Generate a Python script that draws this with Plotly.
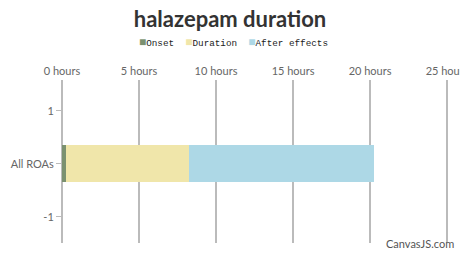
import plotly.graph_objects as go

categories = ["All ROAs"]
onset = [0.25]
duration = [8.0]
after_effects = [12.0]
series_names = ["Onset", "Duration", "After effects"]
colors = ["#7b9170", "#f0e6aa", "#add8e6"]
x_tickvals = [0, 5, 10, 15, 20, 25]
x_ticktext = [f"{v} hours" for v in x_tickvals]
y_tickvals = [1, 0, -1]
y_ticktext = ["1", "All ROAs", "-1"]

y_pos = [0]

fig = go.Figure()
for name, vals, c in zip(series_names, [onset, duration, after_effects], colors):
    fig.add_trace(go.Bar(
        x=vals, y=y_pos, orientation="h", name=name,
        marker=dict(color=c, line=dict(width=0)), width=0.7, showlegend=False,
    ))

legend_text = "&nbsp;&nbsp;".join(
    f"<span style='color:{c};font-size:12px'>■</span>{n}" for n, c in zip(series_names, colors)
)

plot_l, plot_t, plot_b = 62, 80, 11
plot_h = 254 - plot_t - plot_b

fig.update_layout(
    barmode="stack",
    width=460, height=254,
    margin=dict(l=plot_l, r=0, t=plot_t, b=plot_b),
    paper_bgcolor="white", plot_bgcolor="white",
    title=dict(text="<b>halazepam duration</b>", x=0.5, xanchor="center",
               y=1 - 19 / 254, yanchor="middle",
               font=dict(family="Lato", size=22, color="#333333")),
    showlegend=False,
    xaxis=dict(side="top", range=[0, 25.84], tickvals=x_tickvals, ticktext=x_ticktext,
               showgrid=True, gridcolor="#bbbbbb", gridwidth=2,
               zeroline=True, zerolinecolor="#bbbbbb", zerolinewidth=2,
               showline=False, ticks="", ticklabelstandoff=2, ticklabeloverflow="allow",
               automargin=False,
               tickfont=dict(family="Lato", size=11, color="#666")),
    yaxis=dict(range=[-1.49, 1.58], tickvals=y_tickvals, ticktext=y_ticktext,
               showgrid=False, zeroline=False, showline=False,
               ticks="outside", ticklen=5, tickcolor="#bbbbbb", tickwidth=1,
               tickfont=dict(family="Lato", size=11, color="#666")),
    annotations=[
        dict(text="CanvasJS.com", xref="paper", yref="paper", x=1, y=0,
             xanchor="right", yanchor="bottom", xshift=-4, yshift=-9, showarrow=False,
             font=dict(family="Lato", size=11, color="#555")),
        dict(text=legend_text, xref="paper", yref="paper",
             x=(233 - plot_l) / (460 - plot_l), y=1 + (plot_t - 43) / plot_h,
             xanchor="center", yanchor="middle", showarrow=False,
             font=dict(family="Liberation Mono", size=9.3, color="#222")),
    ],
)

fig.write_html("out.html")
